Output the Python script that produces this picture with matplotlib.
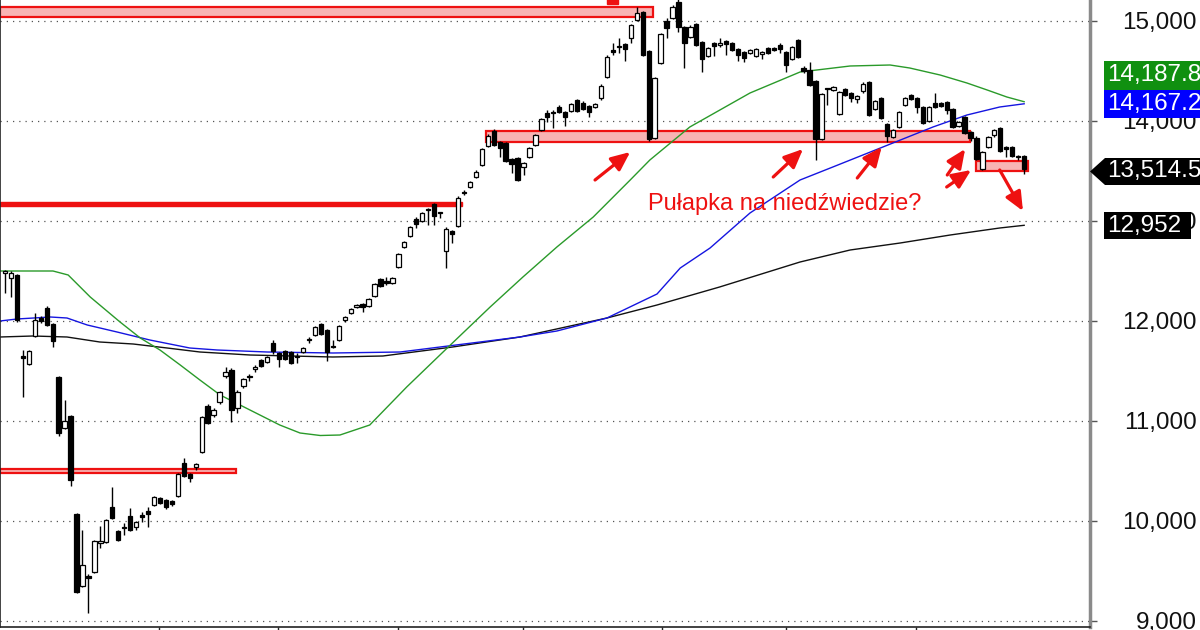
import matplotlib
matplotlib.use("Agg")
import matplotlib.pyplot as plt
from matplotlib.patches import Rectangle, Polygon

plt.rcParams['font.family'] = ['Liberation Sans', 'DejaVu Sans']

# ---------------- data ----------------
opens = [12475, 12425, 12455, 11645, 11565, 11845, 12025, 12125, 11965, 11435,
         10925, 11045, 10065, 9345, 9445, 9485, 9775, 9785, 10135, 9895,
         9925, 10045, 9935, 10055, 10095, 10155, 10225, 10205, 10195, 10245,
         10575, 10465, 10535, 10685, 11145, 11055, 11185, 11445, 11505, 11125,
         11345, 11435, 11515, 11605, 11585, 11775, 11675, 11695, 11685, 11635,
         11685, 11805, 11855, 11965, 11905, 11735, 11805, 12005, 12075, 12135,
         12165, 12145, 12245, 12415, 12395, 12375, 12535, 12735, 12845, 13015,
         12995, 13105, 13165, 13075, 12695, 12895, 12945, 13275, 13335, 13435,
         13555, 13745, 13895, 13785, 13775, 13615, 13625, 13535, 13635, 13755,
         13905, 14075, 14075, 14135, 14085, 14095, 14205, 14175, 14145, 14135,
         14225, 14435, 14705, 14735, 14765, 14825, 15005, 15085, 14695, 13825,
         14575, 14995, 15025, 15185, 14935, 14835, 14965, 14785, 14645, 14775,
         14755, 14795, 14775, 14715, 14685, 14675, 14645, 14665, 14725, 14725,
         14755, 14685, 14615, 14805, 14525, 14505, 14395, 13815, 14315, 14305,
         14065, 14315, 14275, 14215, 14295, 14385, 14115, 14225, 13965, 13835,
         13935, 14155, 14255, 14225, 14135, 13995, 14175, 14175, 14185, 14115,
         13945, 14035, 13885, 13825, 13515, 13735, 13855, 13925, 13735, 13735,
         13635, 13645]
highs = [12505, 12495, 12465, 11705, 11705, 12075, 12045, 12145, 11975, 11445,
         11205, 11055, 10075, 9905, 9465, 9805, 9945, 10015, 10335, 9905,
         9975, 10125, 9995, 10085, 10135, 10245, 10235, 10215, 10205, 10475,
         10625, 10475, 10575, 11045, 11165, 11125, 11295, 11535, 11525, 11305,
         11425, 11465, 11555, 11615, 11645, 11805, 11685, 11705, 11695, 11675,
         11735, 11835, 11945, 11975, 11915, 11805, 11955, 12045, 12125, 12165,
         12175, 12225, 12375, 12425, 12435, 12435, 12675, 12795, 12945, 13035,
         13085, 13125, 13175, 13085, 12935, 12905, 13245, 13305, 13395, 13505,
         13725, 13865, 13915, 13795, 13785, 13625, 13635, 13585, 13735, 13865,
         14025, 14105, 14105, 14155, 14095, 14175, 14215, 14195, 14155, 14175,
         14365, 14655, 14775, 14825, 14775, 14965, 15135, 15095, 14705, 14435,
         14875, 15025, 15155, 15235, 14945, 14955, 14975, 14795, 14735, 14785,
         14825, 14805, 14785, 14725, 14695, 14715, 14725, 14695, 14735, 14735,
         14775, 14695, 14745, 14815, 14545, 14585, 14405, 14275, 14325, 14345,
         14295, 14325, 14285, 14255, 14385, 14395, 14205, 14235, 13975, 13915,
         14095, 14235, 14265, 14235, 14145, 14145, 14275, 14185, 14195, 14125,
         13995, 14045, 13895, 13845, 13695, 13845, 13915, 13935, 13745, 13745,
         13655, 13655]
lows = [12275, 12235, 11985, 11235, 11555, 11835, 11975, 11945, 11735, 10845,
        10915, 10345, 9275, 9335, 9075, 9475, 9725, 9775, 10015, 9795,
        9855, 9895, 9905, 9985, 9935, 10145, 10165, 10115, 10145, 10235,
        10435, 10385, 10505, 10675, 10965, 11035, 11165, 11425, 10985, 11075,
        11325, 11395, 11485, 11535, 11575, 11665, 11535, 11605, 11565, 11575,
        11675, 11775, 11845, 11855, 11595, 11725, 11795, 11985, 12065, 12125,
        12085, 12135, 12235, 12335, 12355, 12365, 12525, 12725, 12835, 12925,
        12985, 12955, 12955, 13025, 12525, 12775, 12935, 13255, 13325, 13425,
        13545, 13735, 13745, 13635, 13585, 13475, 13395, 13455, 13625, 13745,
        13895, 13985, 13925, 14075, 13945, 14085, 14085, 14105, 14035, 14125,
        14205, 14425, 14655, 14675, 14595, 14775, 14995, 14645, 13795, 13815,
        14565, 14825, 15015, 14885, 14525, 14825, 14745, 14485, 14635, 14645,
        14735, 14655, 14695, 14595, 14585, 14665, 14635, 14615, 14665, 14695,
        14675, 14485, 14605, 14625, 14475, 14345, 13605, 13805, 14155, 14295,
        14055, 14245, 14185, 14175, 14275, 14045, 14105, 14015, 13785, 13825,
        13925, 14145, 14205, 14075, 13965, 13985, 14125, 14135, 14065, 13925,
        13935, 13865, 13795, 13605, 13505, 13725, 13835, 13685, 13635, 13635,
        13605, 13465]
closes = [12495, 12475, 12005, 11625, 11695, 12005, 11995, 11955, 11795, 10875,
          10995, 10405, 9285, 9555, 9425, 9795, 9795, 10005, 10025, 9805,
          9925, 9905, 9985, 10035, 10065, 10235, 10175, 10135, 10165, 10465,
          10445, 10425, 10565, 11035, 10975, 11105, 11285, 11485, 11105, 11285,
          11415, 11435, 11535, 11545, 11635, 11695, 11615, 11615, 11575, 11635,
          11725, 11805, 11935, 11865, 11685, 11735, 11945, 12035, 12115, 12155,
          12135, 12215, 12365, 12345, 12375, 12425, 12665, 12785, 12935, 12965,
          13075, 13105, 13045, 13075, 12915, 12865, 13225, 13275, 13385, 13485,
          13715, 13845, 13755, 13725, 13595, 13565, 13405, 13575, 13725, 13855,
          14015, 14035, 14075, 14085, 14035, 14165, 14095, 14115, 14085, 14165,
          14345, 14635, 14685, 14735, 14715, 14955, 15075, 14655, 13815, 14425,
          14865, 14925, 15135, 14935, 14775, 14935, 14755, 14615, 14725, 14745,
          14775, 14765, 14705, 14655, 14625, 14705, 14715, 14685, 14675, 14705,
          14715, 14555, 14735, 14635, 14495, 14355, 13815, 14265, 14315, 14335,
          14285, 14255, 14225, 14245, 14365, 14055, 14195, 14025, 13845, 13905,
          14085, 14225, 14215, 14135, 13975, 14135, 14135, 14145, 14105, 13935,
          13985, 13875, 13825, 13615, 13685, 13835, 13905, 13695, 13715, 13645,
          13635, 13514.5]

# moving averages (bar index, value)
ma_green_x = [-0.84, 8.05, 10.6, 14.3, 19.3, 22.7, 26.0, 29.4, 32.7, 36.1, 41.1,
              46.1, 49.5, 52.9, 56.2, 61.2, 67.4, 74.2, 81.4, 86.9,
              92.6, 98.7, 104.9, 108.2, 114.9, 125.0, 133.4, 141.8, 148.5, 151.8,
              156.9, 161.4, 164.8, 168.1, 171.0]
ma_green = [12495, 12495, 12455, 12235, 11985, 11825, 11705, 11555, 11405, 11255, 11105,
            10955, 10875, 10850, 10855, 10955, 11335, 11725, 12135, 12435,
            12735, 13035, 13405, 13605, 13935, 14275, 14485, 14545, 14555, 14525,
            14455, 14375, 14305, 14235, 14187.8]
ma_blue_x = [-0.84, 2.0, 7.6, 10.4, 13.8, 18.8, 24.3, 31.0, 35.6, 44.0, 55.0, 66.3,
             73.0, 86.4, 92.6, 101.0, 109.4, 113.3, 118.3, 125.0, 133.4, 138.9,
             147.3, 155.7, 161.4, 166.9, 171.0]
ma_blue = [11995, 12015, 12035, 12025, 11955, 11885, 11805, 11725, 11705, 11685, 11675, 11685,
           11735, 11835, 11895, 12025, 12265, 12525, 12725, 13075, 13405, 13535,
           13735, 13935, 14055, 14135, 14167.2]
ma_black_x = [-0.84, 4.7, 10.4, 15.9, 21.5, 27.2, 32.7, 41.1, 55.0, 63.4, 75.1,
              86.4, 101.0, 109.4, 119.9, 133.4, 141.8, 150.2, 158.6, 166.9, 171.0]
ma_black = [11835, 11845, 11835, 11785, 11765, 11725, 11685, 11655, 11635, 11645, 11735,
            11835, 12025, 12155, 12335, 12585, 12705, 12775, 12855, 12925, 12952]

yticks = [9000, 10000, 11000, 12000, 13000, 14000, 15000]
month_ticks = [25.8, 45.8, 65.9, 86.9, 110.2, 131.0, 152.9]

# zones (x0, x1, low, high)
zones_pink = [(-0.84, 108.7, 15035, 15135),
              (80.7, 161.9, 13785, 13895),
              (162.9, 171.6, 13495, 13595),
              (-0.84, 38.8, 10475, 10515)]
zone_solid = [(-0.84, 76.7, 13140, 13180), (101.0, 102.9, 15170, 15260)]

arrows = [((99.0, 13405), (104.9, 13685)),
          ((128.9, 13435), (133.9, 13715)),
          ((143.0, 13425), (147.1, 13735)),
          ((158.1, 13455), (161.1, 13715)),
          ((158.0, 13335), (162.1, 13505)),
          ((166.9, 13505), (170.8, 13095))]
note_text = "Pułapka na niedźwiedzie?"
note_pos = (107.9, 13165)

# ---------------- drawing ----------------
W, H = 1200, 630
fig = plt.figure(figsize=(12, 6.3), dpi=100)
fig.patch.set_facecolor('white')
ax = fig.add_axes([0, 3 / H, 1090 / W, 627 / H])
ax.set_xlim(-0.84, 182.05)
ax.set_ylim(8935, 15205)

for y in yticks:
    ax.axhline(y, color='#555555', lw=0.9, ls=(0, (1, 4)), zorder=0)

# zones
for x0, x1, lo, hi in zones_pink:
    ax.add_patch(Rectangle((x0, lo), x1 - x0, hi - lo, facecolor='#f8b4b4',
                           edgecolor='#ee1111', lw=1.6, zorder=1))
for x0, x1, lo, hi in zone_solid:
    ax.add_patch(Rectangle((x0, lo), x1 - x0, hi - lo, facecolor='#ee1111',
                           edgecolor='#ee1111', lw=1, zorder=1))

# moving averages
ax.plot(ma_black_x, ma_black, color='#111111', lw=1.0, zorder=2)
ax.plot(ma_blue_x, ma_blue, color='#1515e0', lw=1.0, zorder=2)
ax.plot(ma_green_x, ma_green, color='#2a9a2a', lw=1.0, zorder=2)

# candles
n = len(opens)
xs = list(range(n))
ax.vlines(xs, lows, highs, color='black', lw=1.0, zorder=3)
bw = 0.72
for i in xs:
    o, c = opens[i], closes[i]
    lo, hi = min(o, c), max(o, c)
    h = max(hi - lo, 8)
    fc = 'white' if c > o else 'black'
    ax.add_patch(Rectangle((i - bw / 2, lo), bw, h, facecolor=fc,
                           edgecolor='black', lw=0.9, zorder=4))

# arrows
for (tail, head) in arrows:
    ax.annotate('', xy=head, xytext=tail,
                arrowprops=dict(arrowstyle='-|>,head_length=0.95,head_width=0.42',
                                color='#ee1111', lw=2.3, mutation_scale=12,
                                shrinkA=0, shrinkB=0), zorder=6)

ax.text(note_pos[0], note_pos[1], note_text, color='#ee1111', fontsize=17,
        ha='left', va='center', zorder=6)

# axes styling
ax.spines['top'].set_visible(False)
ax.spines['left'].set_color('#222222')
ax.spines['left'].set_linewidth(1.2)
ax.spines['bottom'].set_color('#222222')
ax.spines['bottom'].set_linewidth(1.2)
ax.spines['right'].set_color('#8a8a8a')
ax.spines['right'].set_linewidth(2.5)

ax.set_xticks(month_ticks)
ax.set_xticklabels([''] * len(month_ticks))
ax.tick_params(axis='x', length=8, width=1, color='#222222')
ax.set_yticks(yticks)
ax.set_yticklabels([f"{v:,}" for v in yticks])
ax.yaxis.tick_right()
ax.tick_params(axis='y', length=5, width=1, color='#555555', labelsize=17.5, pad=72)
for lab in ax.get_yticklabels():
    lab.set_horizontalalignment('right')
    lab.set_color('#111111')


# value labels (pixel coords, origin top-left)
def fx(x):
    return x / W


def fy(y):
    return 1 - y / H


def box(x0, y0, x1, y1, color):
    fig.add_artist(Rectangle((fx(x0), fy(y1)), (x1 - x0) / W, (y1 - y0) / H,
                             transform=fig.transFigure, facecolor=color,
                             edgecolor='none', zorder=5))


box(1104, 61, 1205, 90, '#109010')
fig.text(fx(1107), fy(75.5), f"{ma_green[-1]:,.1f}", color='white', fontsize=17.5,
         ha='left', va='center', zorder=6)
box(1104, 90, 1205, 118, '#0000ff')
fig.text(fx(1107), fy(104), f"{ma_blue[-1]:,.1f}", color='white', fontsize=17.5,
         ha='left', va='center', zorder=6)
fig.add_artist(Polygon([(fx(1090), fy(171.5)), (fx(1105), fy(158)), (fx(1205), fy(158)),
                        (fx(1205), fy(185)), (fx(1105), fy(185))],
                       closed=True, transform=fig.transFigure, facecolor='black',
                       edgecolor='none', zorder=5))
fig.text(fx(1107), fy(171.5), f"{closes[-1]:,.1f}", color='white', fontsize=17.5,
         ha='left', va='center', zorder=6)
box(1104, 212, 1191, 239, 'black')
fig.text(fx(1107), fy(225.5), f"{ma_black[-1]:,}", color='white', fontsize=17.5,
         ha='left', va='center', zorder=6)

fig.savefig('out.png', dpi=100)
